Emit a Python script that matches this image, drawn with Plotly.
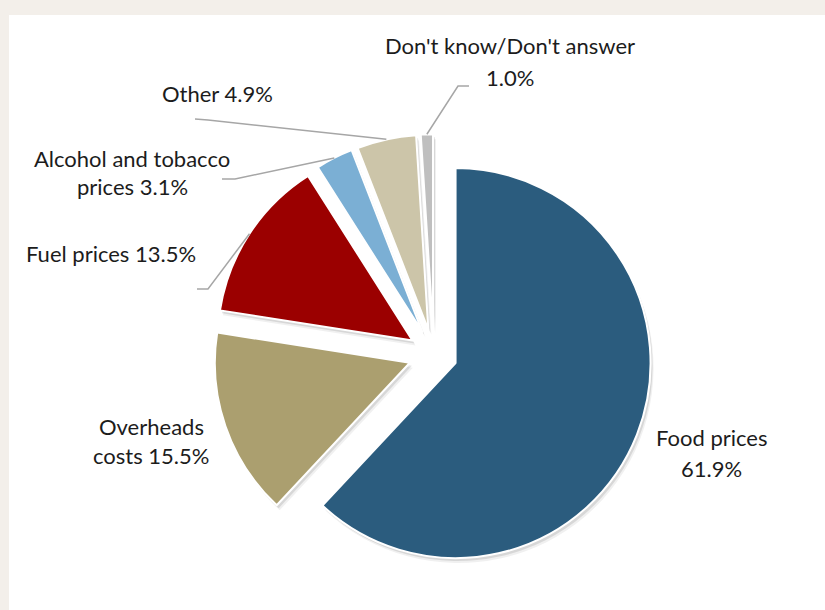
import math
import plotly.graph_objects as go

# ---- data ----
categories = ["Food prices", "Overheads costs", "Fuel prices", "Alcohol and tobacco prices", "Other", "Don't know/Don't answer"]
values = [61.9, 15.5, 13.5, 3.1, 4.9, 1.0]
label_lines = [
    ["Food prices", "61.9%"],
    ["Overheads", "costs 15.5%"],
    ["Fuel prices 13.5%"],
    ["Alcohol and tobacco", "prices 3.1%"],
    ["Other 4.9%"],
    ["Don't know/Don't answer", "1.0%"],
]
colors = ["#2b5c7e", "#ab9f6f", "#9b0000", "#7bafd4", "#ccc5a9", "#bfbfbf"]
pulls = [0.12, 0.13, 0.13, 0.13, 0.13, 0.13]

W, H = 825, 610
CX, CY, R = 433.8, 354.5, 195.0
maxpull = max(pulls)
box = 2 * R * (1 + maxpull)
half_w = 250
dom_x = [(CX - half_w) / W, (CX + half_w) / W]
y0 = 1 - (CY + box / 2) / H
dom_y = [y0, y0 + box / H]

fig = go.Figure()

# soft shadow layers
for dx, dy, a in [(3, 5, 0.06), (2, 3, 0.10)]:
    fig.add_trace(go.Pie(
        labels=categories, values=values, sort=False, direction="clockwise", rotation=0,
        pull=pulls, textinfo="none", hoverinfo="skip", showlegend=False,
        marker=dict(colors=[f"rgba(0,0,0,{a})"] * len(values), line=dict(width=0)),
        domain=dict(x=[dom_x[0] + dx / W, dom_x[1] + dx / W], y=[dom_y[0] - dy / H, dom_y[1] - dy / H]),
    ))

fig.add_trace(go.Pie(
    labels=categories, values=values, sort=False, direction="clockwise", rotation=0,
    pull=pulls, textinfo="none", showlegend=False,
    marker=dict(colors=colors, line=dict(color="white", width=2)),
    domain=dict(x=dom_x, y=dom_y),
))

# ---- geometry for leader lines ----
total = sum(values)
mids = []
acc = 0
for v in values:
    mids.append((acc + v / 2) / total * 360)
    acc += v

def outer_point(i):
    th = math.radians(mids[i])
    d = R * (1 + pulls[i])
    return CX + d * math.sin(th), CY - d * math.cos(th)

def px(x, y):
    return x / W, 1 - y / H

# label text placement (pixel centers, one per line)
label_pos = {
    0: [(711, 437), (711, 468)],
    1: [(151, 426), (151, 455)],
    2: [(111, 254)],
    3: [(132, 158), (132, 187)],
    4: [(218, 93)],
    5: [(510, 46), (510, 78)],
}
# leader elbows (label end, elbow)
leaders = {
    2: [(197, 289), (208, 289)],
    3: [(222, 179), (235, 179)],
    4: [(195, 119), (208, 120)],
    5: [(469, 86), (458, 86)],
}

shapes = [dict(type="rect", xref="paper", yref="paper",
               x0=9 / W, x1=1.0, y0=0, y1=1 - 15 / H,
               fillcolor="white", line=dict(width=0), layer="below")]
for i, pts in leaders.items():
    ex, ey = outer_point(i)
    allpts = pts + [(ex, ey)]
    path = "M " + " L ".join(f"{px(x, y)[0]:.5f},{px(x, y)[1]:.5f}" for x, y in allpts)
    shapes.append(dict(type="path", xref="paper", yref="paper", path=path,
                       line=dict(color="#a6a6a6", width=1.5)))

annotations = []
for i, lines in enumerate(label_lines):
    for (x, y), t in zip(label_pos[i], lines):
        xp, yp = px(x, y)
        annotations.append(dict(x=xp, y=yp, xref="paper", yref="paper", text=t,
                                showarrow=False, xanchor="center", yanchor="middle",
                                font=dict(family="Lato, Open Sans, sans-serif", size=22, color="#1c1c1c")))

fig.update_layout(
    width=W, height=H,
    margin=dict(l=0, r=0, t=0, b=0),
    paper_bgcolor="#f3efea",
    plot_bgcolor="white",
    shapes=shapes,
    annotations=annotations,
    showlegend=False,
)

fig.write_html("out.html", config={"displayModeBar": False},
               post_script="document.body.style.margin='0';document.body.style.overflow='hidden';")
